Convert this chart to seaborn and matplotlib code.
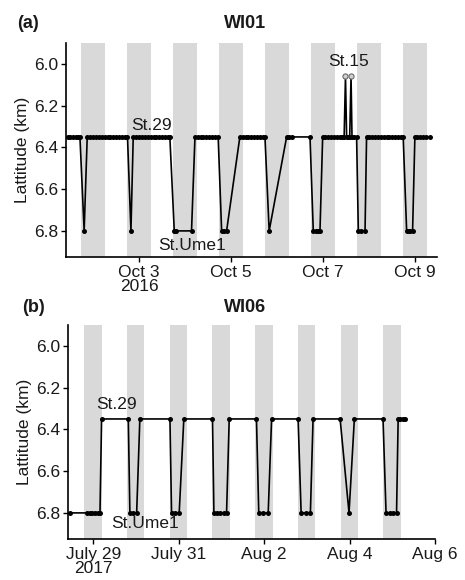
import matplotlib
matplotlib.use("Agg")
import numpy as np
import pandas as pd
import matplotlib.pyplot as plt
import seaborn as sns

sns.set_theme(style="ticks")
plt.rcParams['font.family'] = ['Liberation Sans', 'DejaVu Sans']

# ---------------- Panel (a) WI01, hours after 2016-10-01 00:00 ----------------
a_base = "2016-10-01"
a_hours = [10.8, 12, 13.5, 15, 16.2, 17.1,
           19.3,
           20.9, 22.5, 24, 25.5, 27, 28.5, 30, 31.5, 33, 34.5, 36, 37.5, 39, 40.5, 41.9,
           43.7,
           44.9, 46.5, 48, 49.5, 51, 52.5, 54, 55.5, 57, 58.5, 60, 61.5, 63, 64.0,
           66.3, 67.3, 75.3,
           77.1, 78.6, 80, 81.5, 83, 84.5, 86, 87.5, 89.2,
           91.0, 92.0, 93.6,
           100.5, 102, 103.5, 105, 106.5, 108, 109.5, 111, 112.5, 113.6,
           115.8,
           124.9, 126.2, 127.5, 137.1,
           138.8, 140, 141.2, 142.3,
           143.7, 145, 146.5, 148, 149.5, 151, 152.5, 154, 154.9,
           155.6,
           156.2, 157, 157.8,
           158.5,
           159.0, 160.2, 161.4,
           162.3, 163.5, 165.8,
           166.6, 168, 169.5, 171, 172.5, 174, 175.5, 177, 178.5, 180, 181.5, 183, 184.5, 185.7,
           187.5, 188.5, 189.5, 190.6,
           191.8, 193, 194.5, 196, 197.5, 199.5]
a_lat = [6.35, 6.35, 6.35, 6.35, 6.35, 6.35,
         6.8,
         6.35, 6.35, 6.35, 6.35, 6.35, 6.35, 6.35, 6.35, 6.35, 6.35, 6.35, 6.35, 6.35, 6.35, 6.35,
         6.8,
         6.35, 6.35, 6.35, 6.35, 6.35, 6.35, 6.35, 6.35, 6.35, 6.35, 6.35, 6.35, 6.35, 6.35,
         6.8, 6.8, 6.8,
         6.35, 6.35, 6.35, 6.35, 6.35, 6.35, 6.35, 6.35, 6.35,
         6.8, 6.8, 6.8,
         6.35, 6.35, 6.35, 6.35, 6.35, 6.35, 6.35, 6.35, 6.35, 6.35,
         6.8,
         6.35, 6.35, 6.35, 6.35,
         6.8, 6.8, 6.8, 6.8,
         6.35, 6.35, 6.35, 6.35, 6.35, 6.35, 6.35, 6.35, 6.35,
         6.06,
         6.35, 6.35, 6.35,
         6.06,
         6.35, 6.35, 6.35,
         6.8, 6.8, 6.8,
         6.35, 6.35, 6.35, 6.35, 6.35, 6.35, 6.35, 6.35, 6.35, 6.35, 6.35, 6.35, 6.35, 6.35,
         6.8, 6.8, 6.8, 6.8,
         6.35, 6.35, 6.35, 6.35, 6.35, 6.35]
a_night_start = ["2016-10-01 17:25", "2016-10-02 17:25", "2016-10-03 17:25", "2016-10-04 17:25",
                 "2016-10-05 17:25", "2016-10-06 17:25", "2016-10-07 17:25", "2016-10-08 17:25"]
a_night_end = ["2016-10-02 06:00", "2016-10-03 06:00", "2016-10-04 06:00", "2016-10-05 06:00",
               "2016-10-06 06:00", "2016-10-07 06:00", "2016-10-08 06:00", "2016-10-09 06:00"]
a_xlim = ["2016-10-01 09:50", "2016-10-09 11:20"]
a_ticks = ["2016-10-03", "2016-10-05", "2016-10-07", "2016-10-09"]
a_ticklabels = ["Oct 3\n2016", "Oct 5", "Oct 7", "Oct 9"]
a_labels = ["St.29", "St.Ume1", "St.15"]
a_label_pos = [("2016-10-02 19:40", 6.295), ("2016-10-03 09:50", 6.87), ("2016-10-07 02:35", 5.99)]

# ---------------- Panel (b) WI06, hours after 2017-07-28 00:00 ----------------
b_base = "2017-07-28"
b_hours = [10.9, 20.3, 22, 23.5, 25, 26.5, 27.8,
           28.7, 43.7,
           44.6, 46.5, 48.4,
           50.2, 67.1,
           68.0, 70, 72.3,
           74.9, 91.0,
           91.8, 93.5, 95.5, 97.3, 98.9,
           100.4, 115.7,
           117.0, 119.5, 122.3,
           124.2, 139.1,
           140.8, 143.5, 146.0,
           147.5, 162.7,
           167.7,
           170.7, 186.8,
           188.5, 190.5, 192.5, 194.4,
           195.3, 196.5, 197.8, 199.0]
b_lat = [6.8, 6.8, 6.8, 6.8, 6.8, 6.8, 6.8,
         6.35, 6.35,
         6.8, 6.8, 6.8,
         6.35, 6.35,
         6.8, 6.8, 6.8,
         6.35, 6.35,
         6.8, 6.8, 6.8, 6.8, 6.8,
         6.35, 6.35,
         6.8, 6.8, 6.8,
         6.35, 6.35,
         6.8, 6.8, 6.8,
         6.35, 6.35,
         6.8,
         6.35, 6.35,
         6.8, 6.8, 6.8, 6.8,
         6.35, 6.35, 6.35, 6.35]
b_night_start = ["2017-07-28 19:00", "2017-07-29 19:00", "2017-07-30 19:00", "2017-07-31 19:00",
                 "2017-08-01 19:00", "2017-08-02 19:00", "2017-08-03 19:00", "2017-08-04 19:00"]
b_night_end = ["2017-07-29 04:45", "2017-07-30 04:45", "2017-07-31 04:45", "2017-08-01 04:45",
               "2017-08-02 04:45", "2017-08-03 04:45", "2017-08-04 04:45", "2017-08-05 04:45"]
b_xlim = ["2017-07-28 09:50", "2017-08-06 00:00"]
b_ticks = ["2017-07-29", "2017-07-31", "2017-08-02", "2017-08-04", "2017-08-06"]
b_ticklabels = ["July 29\n2017", "July 31", "Aug 2", "Aug 4", "Aug 6"]
b_labels = ["St.29", "St.Ume1"]
b_label_pos = [("2017-07-29 01:30", 6.283), ("2017-07-29 09:55", 6.852)]

y_ticks = [6.0, 6.2, 6.4, 6.6, 6.8]
y_lim = (6.925, 5.90)

fig = plt.figure(figsize=(4.65, 5.8), dpi=100)
ax_a = fig.add_axes([66 / 465, 1 - 257 / 580, 371 / 465, 214 / 580])
ax_b = fig.add_axes([68 / 465, 1 - 539 / 580, 367 / 465, 214 / 580])

FS = 12.5
TXT = "#1a1a1a"


def draw(ax, base, hours, lat, ns, ne, xlim, ticks, ticklabels, labels, label_pos):
    df = pd.DataFrame({"time": pd.Timestamp(base) + pd.to_timedelta(hours, unit="h"),
                       "lat": lat})
    for s, e in zip(ns, ne):
        ax.axvspan(pd.Timestamp(s), pd.Timestamp(e), color="#d9d9d9", lw=0, zorder=0)
    sns.lineplot(data=df, x="time", y="lat", ax=ax, color="black", lw=1.2,
                 marker="o", markersize=3.6, markeredgewidth=0, estimator=None,
                 sort=False, zorder=3)
    spikes = df[df["lat"] < 6.2]
    if len(spikes):
        sns.scatterplot(data=spikes, x="time", y="lat", ax=ax, s=14, color="#cfcfcf",
                        edgecolor="#707070", linewidth=0.8, zorder=4, legend=False)
    ax.set_xlim(pd.Timestamp(xlim[0]), pd.Timestamp(xlim[1]))
    ax.set_ylim(*y_lim)
    ax.set_yticks(y_ticks)
    ax.set_yticklabels([f"{v:.1f}" for v in y_ticks])
    ax.set_xticks([pd.Timestamp(t) for t in ticks])
    ax.set_xticklabels(ticklabels, linespacing=0.95)
    ax.set_xlabel("")
    ax.set_ylabel("Lattitude (km)", fontsize=FS, color=TXT, labelpad=3)
    ax.tick_params(axis="both", labelsize=FS, length=3.5, width=1, colors="black",
                   labelcolor=TXT, pad=2)
    for sp in ["top", "right"]:
        ax.spines[sp].set_visible(False)
    for sp in ["left", "bottom"]:
        ax.spines[sp].set_color("black")
        ax.spines[sp].set_linewidth(1.2)
    for txt, (t, y) in zip(labels, label_pos):
        ax.text(pd.Timestamp(t), y, txt, fontsize=FS, color=TXT, ha="left", va="center",
                zorder=5)


draw(ax_a, a_base, a_hours, a_lat, a_night_start, a_night_end, a_xlim, a_ticks,
     a_ticklabels, a_labels, a_label_pos)
draw(ax_b, b_base, b_hours, b_lat, b_night_start, b_night_end, b_xlim, b_ticks,
     b_ticklabels, b_labels, b_label_pos)

fig.text(17 / 465, 1 - 24 / 580, "(a)", fontsize=13, fontweight="bold", color=TXT,
         ha="left", va="center")
fig.text(245 / 465, 1 - 24 / 580, "WI01", fontsize=13, fontweight="bold", color=TXT,
         ha="center", va="center")
fig.text(22 / 465, 1 - 307 / 580, "(b)", fontsize=13, fontweight="bold", color=TXT,
         ha="left", va="center")
fig.text(245 / 465, 1 - 307 / 580, "WI06", fontsize=13, fontweight="bold", color=TXT,
         ha="center", va="center")

fig.savefig("out.png", dpi=100)
